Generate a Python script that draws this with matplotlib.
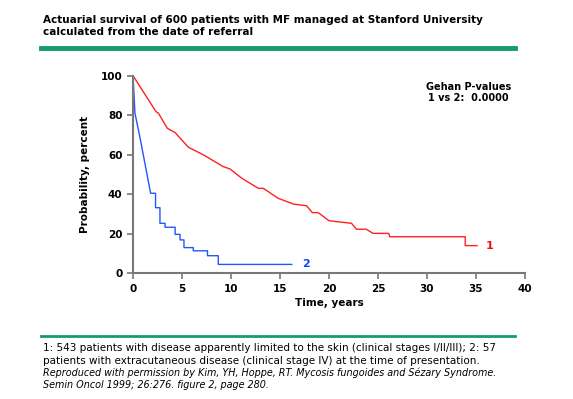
import matplotlib
matplotlib.use('Agg')
import matplotlib.pyplot as plt
from matplotlib.lines import Line2D

# group 1: skin-limited disease (red)
t1 = [0, 2.35, 2.6, 3.5, 4.3, 5.65, 7.2, 9.2, 9.9, 11.1, 12.8, 13.3, 14.8, 16.4,
      17.7, 18.3, 18.9, 20.0, 22.3, 22.8, 23.8, 24.5, 26.1, 26.2, 33.9, 33.9, 35.1]
s1 = [100, 81.8, 81, 73.4, 71.2, 63.8, 59.9, 54, 52.8, 48.1, 43, 43, 38, 35,
      34.2, 30.7, 30.7, 26.6, 25.3, 22.3, 22.3, 20.2, 20.2, 18.5, 18.5, 14, 14]

# group 2: extracutaneous disease (blue)
t2 = [0, 0.2, 0.7, 1.8, 2.3, 2.3, 2.75, 2.75, 3.27, 3.27, 4.3, 4.3, 4.8, 4.8,
      5.2, 5.2, 6.15, 6.15, 7.6, 7.6, 8.7, 8.7, 16.2]
s2 = [100, 81, 69, 40.5, 40.5, 33.2, 33.2, 25.3, 25.3, 23.3, 23.3, 19.7, 19.7, 16.9,
      16.9, 13, 13, 11.4, 11.4, 8.9, 8.9, 4.5, 4.5]

x_ticks = [0, 5, 10, 15, 20, 25, 30, 35, 40]
y_ticks = [0, 20, 40, 60, 80, 100]

title = "Actuarial survival of 600 patients with MF managed at Stanford University\ncalculated from the date of referral"
notes = ["1: 543 patients with disease apparently limited to the skin (clinical stages I/II/III); 2: 57",
         "patients with extracutaneous disease (clinical stage IV) at the time of presentation."]
cite = ["Reproduced with permission by Kim, YH, Hoppe, RT. Mycosis fungoides and Sézary Syndrome.",
        "Semin Oncol 1999; 26:276. figure 2, page 280."]

green = '#129e6a'
W, H = 573, 399

fig = plt.figure(figsize=(W / 100, H / 100), dpi=100)

def fx(px):
    return px / W

def fy(py):
    return 1 - py / H

fig.text(fx(43), fy(15), title, fontsize=7.5, fontweight='bold', va='top', ha='left',
         linespacing=1.2)
fig.add_artist(Line2D([fx(41), fx(515)], [fy(47.5), fy(47.5)], color=green, lw=3.5))
fig.add_artist(Line2D([fx(41), fx(515)], [fy(335.5), fy(335.5)], color=green, lw=2))

ax = fig.add_axes([fx(133), fy(273.3), fx(525) - fx(133), fy(75.7) - fy(273.3)])
ax.plot(t1, s1, color='#ff2020', lw=1)
ax.plot(t2, s2, color='#2255ff', lw=1)
ax.text(36, s1[-1], '1', color='#ee1111', fontsize=8, fontweight='bold', va='center')
ax.text(17.3, s2[-1], '2', color='#1144ff', fontsize=8, fontweight='bold', va='center')
ax.text(34.2, 97, 'Gehan P-values\n1 vs 2:  0.0000', ha='center', va='top', fontsize=7,
        fontweight='bold', linespacing=1.2)

ax.set_xlim(0, 40)
ax.set_ylim(0, 100)
ax.set_xticks(x_ticks)
ax.set_yticks(y_ticks)
for side in ['top', 'right']:
    ax.spines[side].set_visible(False)
for side in ['left', 'bottom']:
    ax.spines[side].set_color('#777777')
    ax.spines[side].set_linewidth(1.5)
ax.tick_params(colors='#777777', length=4, width=1.2, labelcolor='black', labelsize=7.5)
for lab in ax.get_xticklabels() + ax.get_yticklabels():
    lab.set_fontweight('bold')
ax.set_xlabel('Time, years', fontsize=7.5, fontweight='bold', labelpad=3)
ax.set_ylabel('Probability, percent', fontsize=7.5, fontweight='bold', labelpad=8)

y = 343
for line in notes:
    fig.text(fx(43), fy(y), line, fontsize=7.5, va='top', ha='left')
    y += 12.5
for line in cite:
    fig.text(fx(43), fy(y), line, fontsize=6.9, style='italic', va='top', ha='left')
    y += 12

fig.savefig('out.png', dpi=100)
